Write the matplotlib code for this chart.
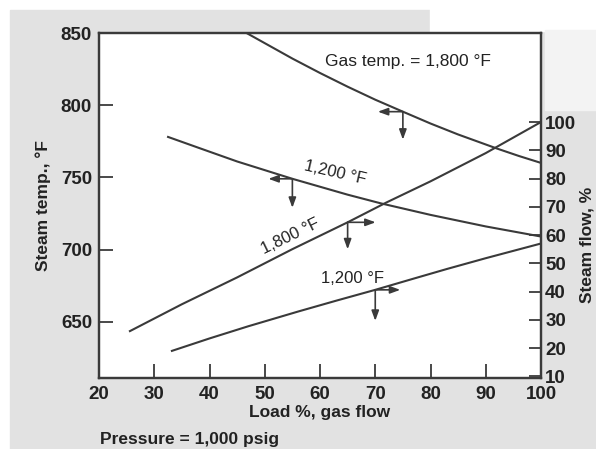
import numpy as np
import matplotlib
matplotlib.use("Agg")
import matplotlib.pyplot as plt
from matplotlib.patches import Rectangle
from matplotlib.transforms import ScaledTranslation

plt.rcParams["font.family"] = ["Liberation Sans", "DejaVu Sans"]

# %% values
# steam temperature (left axis, F) vs load
load_t1800 = [46.7, 55, 60, 65, 70, 75, 80, 85, 92, 96, 100]
temp_t1800 = [850, 832.3, 822.3, 812.8, 803.8, 795.5, 787.3, 779.7, 770, 764.8, 760]
load_t1200 = [32.5, 38, 45, 55, 65, 71, 80, 90, 100]
temp_t1200 = [778, 770.5, 761, 749, 738, 732, 724, 716, 709]

# steam flow (right axis, %) vs load
load_f1800 = [25.6, 35, 45, 55, 65, 72, 80, 90, 100]
flow_f1800 = [26, 35.5, 45, 55, 64.5, 71.5, 79, 89, 100]
load_f1200 = [33.2, 40, 47, 56, 63, 70, 77, 83, 90, 100]
flow_f1200 = [19, 23.4, 27.7, 32.9, 36.8, 40.6, 44.6, 48, 51.8, 57]

xticks = [20, 30, 40, 50, 60, 70, 80, 90, 100]
temp_ticks = [650, 700, 750, 800, 850]
flow_ticks = [10, 20, 30, 40, 50, 60, 70, 80, 90, 100]

line_c = "#3a3a3a"
text_c = "#222222"

fig = plt.figure(figsize=(5.96, 4.49), dpi=100, facecolor="white")
# scanned page background
fig.patches.append(Rectangle((10 / 596, 0), 1, 1 - 10 / 449, transform=fig.transFigure,
                             color="#e2e2e2", zorder=-10))
fig.patches.append(Rectangle((430 / 596, 1 - 31 / 449), 1, 1, transform=fig.transFigure,
                             color="white", zorder=-9))
fig.patches.append(Rectangle((545 / 596, 1 - 110 / 449), 1, 80 / 449, transform=fig.transFigure,
                             color="#f3f3f3", zorder=-9))

ax = fig.add_axes([99 / 596, 1 - 378 / 449, 442 / 596, 345 / 449])
ax.set_facecolor("white")
ax.set_xlim(20, 100)
ax.set_ylim(611, 850)
ax2 = ax.twinx()
ax2.set_ylim(9.4, 131.5)

ax.plot(load_t1800, temp_t1800, color=line_c, lw=1.5)
ax.plot(load_t1200, temp_t1200, color=line_c, lw=1.5)
ax2.plot(load_f1800, flow_f1800, color=line_c, lw=1.5)
ax2.plot(load_f1200, flow_f1200, color=line_c, lw=1.5)

for a in (ax, ax2):
    for s in a.spines.values():
        s.set_linewidth(1.6)
        s.set_color(line_c)

ax.set_xticks(xticks)
ax.set_yticks(temp_ticks)
ax2.set_yticks(flow_ticks)
ax.tick_params(axis="both", direction="in", length=10, width=1.3, color=line_c,
               labelsize=13.5, labelcolor=text_c)
ax.tick_params(axis="y", pad=5)
ax.tick_params(axis="x", pad=6)
ax2.tick_params(axis="y", direction="in", length=9, width=1.3, color=line_c,
                labelsize=13.5, labelcolor=text_c, pad=3)
for lab in ax.get_xticklabels() + ax.get_yticklabels() + ax2.get_yticklabels():
    lab.set_fontweight("bold")

ax.set_ylabel("Steam temp., °F", fontsize=12.5, fontweight="bold", color=text_c, va="center")
ax.yaxis.set_label_coords(-0.127, 0.499)
ax2.set_ylabel("Steam flow, %", fontsize=12.5, fontweight="bold", color=text_c, va="center")
ax2.yaxis.set_label_coords(1.104, 0.386)
ax.set_xlabel("Load %, gas flow", fontsize=12.5, fontweight="bold", color=text_c, va="center")
ax.xaxis.set_label_coords(0.5, -0.101)
ax.text(0.002, -0.178, "Pressure = 1,000 psig", transform=ax.transAxes, fontsize=12.5,
        fontweight="bold", color=text_c, va="center", ha="left")

# curve labels
ax.text(75.9, 830, "Gas temp. = 1,800 °F", fontsize=12.5, color=text_c, ha="center", va="center")
ax.text(62.7, 753, "1,200 °F", fontsize=12, color=text_c, ha="center", va="center",
        rotation=-13, rotation_mode="anchor")
ax.text(54.6, 709, "1,800 °F", fontsize=12, color=text_c, ha="center", va="center",
        rotation=26, rotation_mode="anchor")
ax.text(65.8, 680, "1,200 °F", fontsize=12, color=text_c, ha="center", va="center")


def axis_arrows(a, x, y, dx_px, dy_px):
    # two short arrows from a point on a curve: one sideways (which y axis), one down
    for ox, oy in ((dx_px, 0), (0, dy_px)):
        tr = a.transData + ScaledTranslation(ox / 100, oy / 100, fig.dpi_scale_trans)
        a.annotate("", xy=(x, y), xycoords=tr, xytext=(x, y), textcoords="data",
                   arrowprops=dict(arrowstyle="-|>,head_length=0.6,head_width=0.22",
                                   color=line_c, lw=1.2, shrinkA=0, shrinkB=0))


axis_arrows(ax, 75, np.interp(75, load_t1800, temp_t1800), -25, -28)
axis_arrows(ax, 55, np.interp(55, load_t1200, temp_t1200), -24, -29)
axis_arrows(ax2, 65, np.interp(65, load_f1800, flow_f1800), 28, -27)
axis_arrows(ax2, 70, np.interp(70, load_f1200, flow_f1200), 25, -31)

fig.savefig("out.png", dpi=100, facecolor=fig.get_facecolor())
